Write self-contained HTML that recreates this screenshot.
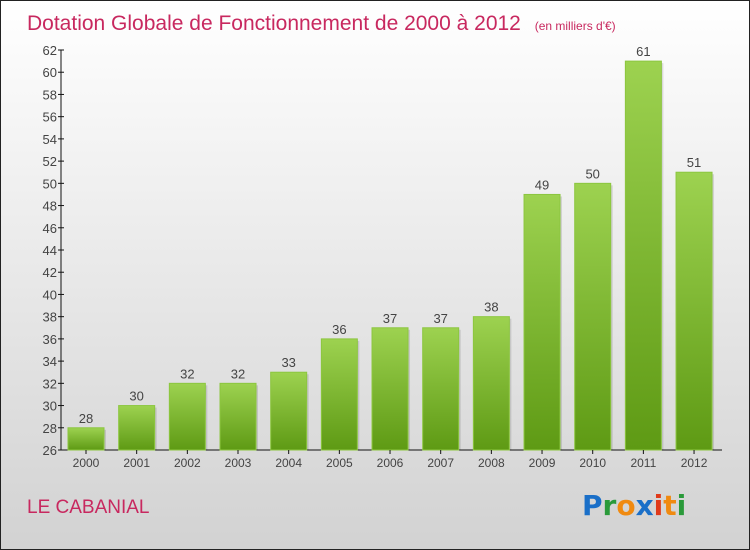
<!DOCTYPE html>
<html><head><meta charset="utf-8"><style>
html,body{margin:0;padding:0}
body{width:750px;height:550px;overflow:hidden;font-family:"Liberation Sans",sans-serif}
#wrap{position:absolute;left:0;top:0;width:748px;height:548px;border:1px solid #222;background:linear-gradient(#ffffff,#d2d2d2)}
</style></head><body>
<div id="wrap">
<svg id="chart" width="750" height="550" style="position:absolute;left:-1px;top:-1px">
<defs><linearGradient id="bg" x1="0" y1="0" x2="0" y2="1"><stop offset="0" stop-color="#9dd250"/><stop offset="1" stop-color="#5e9a14"/></linearGradient></defs>
<text x="27" y="30" font-size="21" fill="#c8285f">Dotation Globale de Fonctionnement de 2000 à 2012 <tspan font-size="12" dx="8">(en milliers d'€)</tspan></text>
<text x="27" y="513" font-size="19" fill="#c8285f">LE CABANIAL</text>
<g font-size="28" font-weight="bold" font-family="'DejaVu Sans',sans-serif">
<text x="582" y="515"><tspan fill="#1a6fc8">P</tspan><tspan fill="#2a9a3a">r</tspan><tspan fill="#f08a10">o</tspan><tspan fill="#1a6fc8">x</tspan><tspan fill="#e03a1a">i</tspan><tspan fill="#f08a10">t</tspan><tspan fill="#2a9a3a">i</tspan></text></g>
<g id="g"></g>
</svg></div>
<script>
const years=["2000","2001","2002","2003","2004","2005","2006","2007","2008","2009","2010","2011","2012"];
const values=[28,30,32,32,33,36,37,37,38,49,50,61,51];
const yTicks=[26,28,30,32,34,36,38,40,42,44,46,48,50,52,54,56,58,60,62];
const NS="http://www.w3.org/2000/svg";
const g=document.getElementById('g');
const yMin=26,yMax=62,yTop=50,yBot=450,x0=61,step=50.67,first=86,bw=36;
const Y=v=>yBot-(v-yMin)/(yMax-yMin)*(yBot-yTop);
const X=i=>first+i*step;
function mk(t,a,txt){const e=document.createElementNS(NS,t);for(const k in a)e.setAttribute(k,a[k]);if(txt!==undefined)e.textContent=txt;g.appendChild(e);return e;}
let e;
e=mk('line',{x1:x0,y1:yTop,x2:x0,y2:yBot,stroke:'#111'});


e=mk('line',{x1:x0,y1:yBot,x2:722,y2:yBot,stroke:'#111'});


yTicks.forEach(t=>{
 e=mk('line',{x1:x0-3,y1:Y(t),x2:x0+3,y2:Y(t),stroke:'#111'});
 
 
 e=mk('text',{x:x0-4,y:Y(t)+5,'text-anchor':'end','font-size':13,fill:'#444'},t);
 
 
});
years.forEach((yr,i)=>{
 const x=X(i),v=values[i];
 e=mk('rect',{x:x-bw/2+2,y:Y(v)+2,width:bw,height:yBot-Y(v)-2,fill:'rgba(0,0,0,0.12)'});
 
 
 e=mk('rect',{x:x-bw/2,y:Y(v),width:bw,height:yBot-Y(v),fill:'url(#bg)',stroke:'#8cc63f','stroke-width':1});
 
 
 e=mk('text',{x:x,y:Y(v)-5,'text-anchor':'middle','font-size':13,fill:'#444'},v);
 
 
 e=mk('line',{x1:x,y1:yBot,x2:x,y2:yBot+4,stroke:'#111'});
 
 
 e=mk('text',{x:x,y:yBot+17,'text-anchor':'middle','font-size':12,fill:'#444'},yr);
 
 
});
</script>
</body></html>
